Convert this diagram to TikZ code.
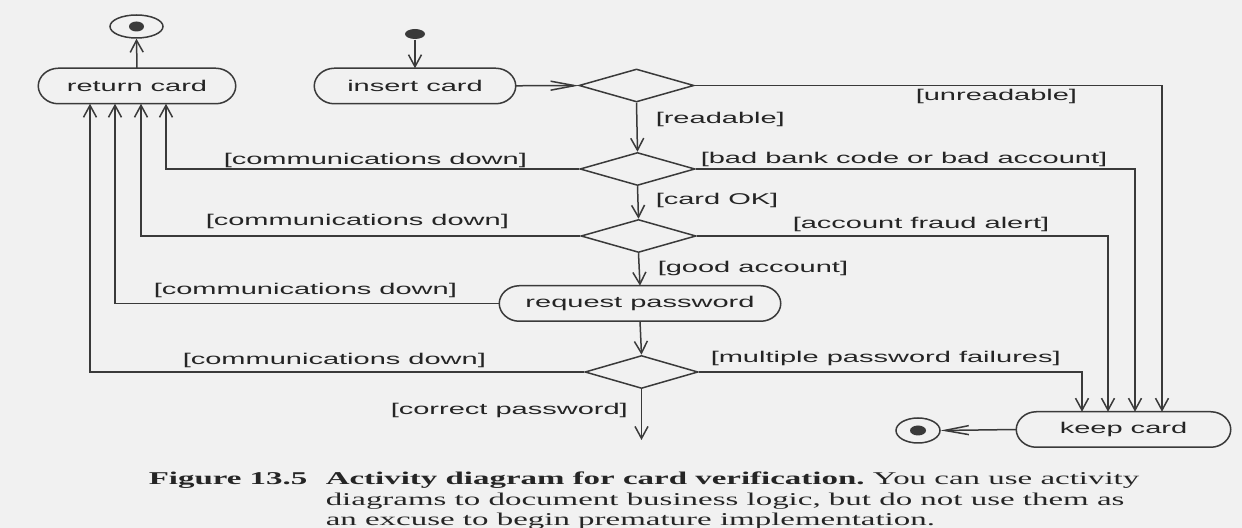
\documentclass[tikz,border=0pt]{standalone}
\usepackage{fontspec}
\usetikzlibrary{shapes.geometric,arrows.meta}
\newfontfamily\dfont[FakeStretch=1.86]{Liberation Sans}
\newfontfamily\cfont[FakeStretch=1.83]{Liberation Serif}
\definecolor{ink}{HTML}{3A3A3A}
\definecolor{txt}{HTML}{252525}
\definecolor{paper}{HTML}{F1F1F1}
\begin{document}
\begin{tikzpicture}[x=0.5pt,y=-0.5pt,line width=0.75pt,draw=ink,
  act/.style={draw=none,rectangle,inner sep=0pt,minimum height=17pt,
    font=\dfont\fontsize{7.8}{9}\selectfont,text=txt},
  dec/.style={draw=ink,diamond,inner sep=0pt,minimum width=57.5pt,minimum height=16.5pt},
  ring/.style={draw=ink,ellipse,inner sep=0pt},
  blob/.style={fill=ink,ellipse,inner sep=0pt,draw=none},
  lbl/.style={inner sep=0pt,anchor=west,font=\dfont\fontsize{7.8}{9}\selectfont,text=txt},
  captxt/.style={inner sep=0pt,anchor=base west,font=\cfont\fontsize{9}{10}\selectfont,text=txt},
  varr/.style={draw=ink,-{Straight Barb[length=6pt,width=6.5pt]}},
  harr/.style={draw=ink,-{Straight Barb[length=12pt,width=4.5pt]}},
]
\fill[paper] (0,0) rectangle (1242,528);
\useasboundingbox (0,0) rectangle (1242,528);

% nodes
\node[ring,minimum width=26.5pt,minimum height=11.5pt] (end1) at (136.5,26.5) {};
\node[blob,minimum width=7.5pt,minimum height=5pt] (end1dot) at (end1.center) {};
\node[blob,minimum width=10pt,minimum height=5pt] (start) at (415,34) {};
\node[act,minimum width=98pt] (ret) at (137,86) {return card};
\node[act,minimum width=100pt] (ins) at (415,86) {insert card};
\node[dec] (d1) at (636.5,85.5) {};
\node[dec] (d2) at (637.5,169) {};
\node[dec] (d3) at (638.5,236) {};
\node[act,minimum width=140pt] (req) at (640,303.5) {request password};
\node[dec,minimum width=56.5pt] (d4) at (641.5,372) {};
\node[act,minimum width=106.5pt] (keep) at (1123.5,429.5) {keep card};
\node[ring,minimum width=22pt,minimum height=12.5pt] (end2) at (918,430.5) {};
\node[blob,minimum width=8pt,minimum height=5pt] (end2dot) at (end2.center) {};
\coordinate (out) at (641.5,440);

% activity outlines with half-elliptic ends
\foreach \n in {ret,ins,req,keep}{
  \draw[ink] ([xshift=10pt]\n.north west) -- ([xshift=-10pt]\n.north east)
    .. controls ([xshift=-4.477pt]\n.north east) and ([yshift=4.695pt]\n.east) .. (\n.east)
    .. controls ([yshift=-4.695pt]\n.east) and ([xshift=-4.477pt]\n.south east) .. ([xshift=-10pt]\n.south east)
    -- ([xshift=10pt]\n.south west)
    .. controls ([xshift=4.477pt]\n.south west) and ([yshift=-4.695pt]\n.west) .. (\n.west)
    .. controls ([yshift=4.695pt]\n.west) and ([xshift=4.477pt]\n.north west) .. ([xshift=10pt]\n.north west)
    -- cycle;
}

% connectors
\draw[varr] (start) -- (ins);
\draw[harr] (ins) -- (d1);
\draw[varr] (ret.north) -- (end1.south);
\draw[varr] (d1.south) -- (d2.north);
\draw[varr] (d2.south) -- (d3.north);
\draw[varr] (d3.south) -- (req.north);
\draw[varr] (req.south) -- (d4.north);
\draw[varr] (d4.south) -- (out);
\draw[harr] (keep.west) -- (end2.east);

\draw[varr] (d1.east) -| ([xshift=19.25pt]keep.north);
\draw[varr] (d2.east) -| ([xshift=5.75pt]keep.north);
\draw[varr] (d3.east) -| ([xshift=-7.75pt]keep.north);
\draw[varr] (d4.east) -| ([xshift=-20.75pt]keep.north);

\draw[varr] (d2.west) -| ([xshift=14.5pt]ret.south);
\draw[varr] (d3.west) -| ([xshift=2pt]ret.south);
\draw[varr] (req.west) -| ([xshift=-11pt]ret.south);
\draw[varr] (d4.west) -| ([xshift=-23.5pt]ret.south);

% guard labels
\node[lbl] (lunread) at (915,96.5) {[unreadable]};
\node[lbl] (lread) at (655,119) {[readable]};
\node[lbl] (lcd1) at (223,160) {[communications down]};
\node[lbl] (lbad) at (700,159.5) {[bad bank code or bad account]};
\node[lbl] (lok) at (655,200) {[card OK]};
\node[lbl] (lcd2) at (205,221) {[communications down]};
\node[lbl] (lfraud) at (792,224.5) {[account fraud alert]};
\node[lbl] (lgood) at (657,268) {[good account]};
\node[lbl] (lcd3) at (153,290.5) {[communications down]};
\node[lbl] (lcd4) at (182,360) {[communications down]};
\node[lbl] (lmult) at (710,358.5) {[multiple password failures]};
\node[lbl] (lcorr) at (390,410.5) {[correct password]};

% caption
\node[captxt] (fig) at (148,485) {\bfseries Figure 13.5};
\node[captxt] (cap1) at (325,485) {\bfseries Activity diagram for card verification.\mdseries\ You can use activity};
\node[captxt] (cap2) at (325,505.5) {diagrams to document business logic, but do not use them as};
\node[captxt] (cap3) at (325,526) {an excuse to begin premature implementation.};
\end{tikzpicture}
\end{document}
